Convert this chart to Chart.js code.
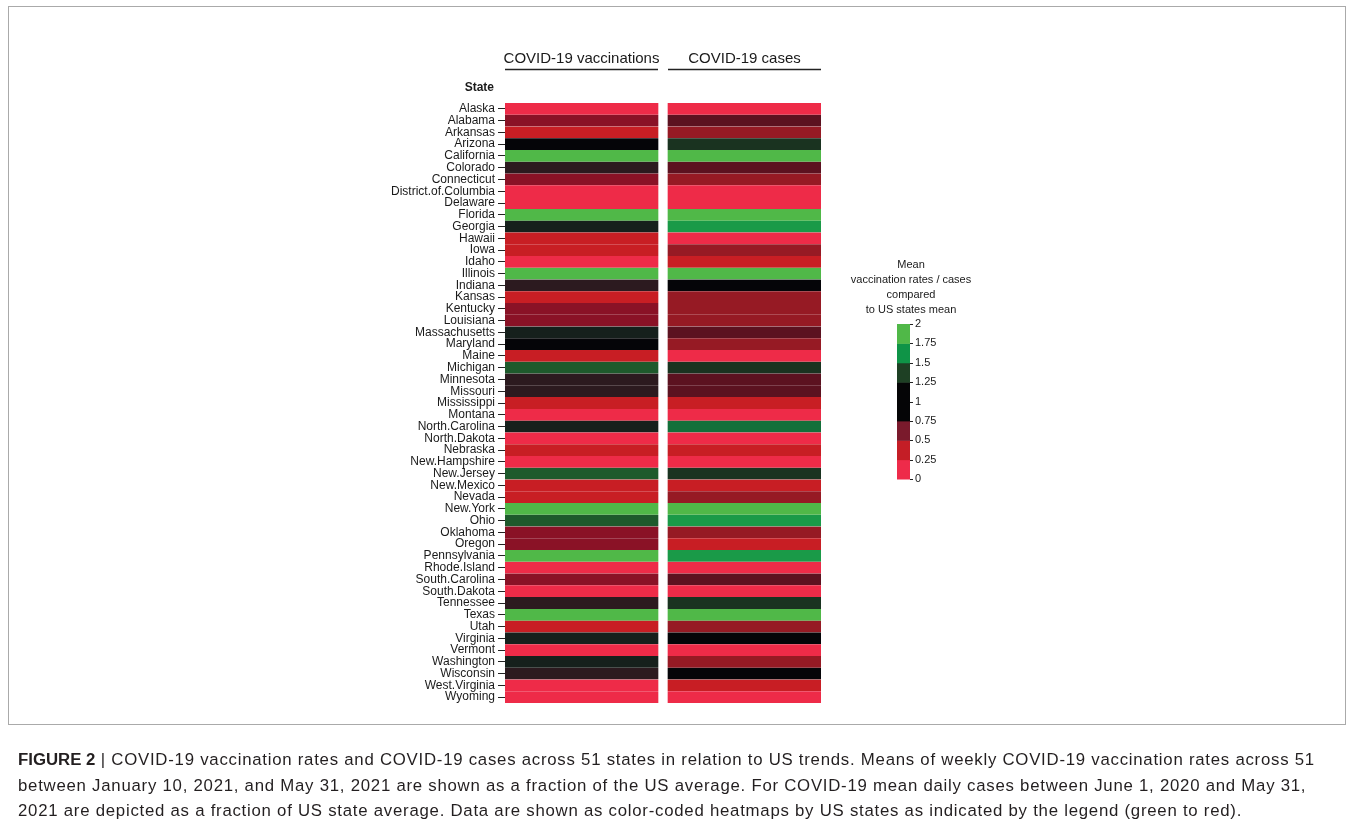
<!DOCTYPE html>
<html>
<head>
<meta charset="utf-8">
<title>COVID-19 vaccinations and cases by state</title>
<script src="https://cdn.jsdelivr.net/npm/chart.js@4.4.1/dist/chart.umd.min.js"></script>
<style>
  html, body { margin: 0; padding: 0; background: #ffffff; }
  #wrap { position: relative; width: 1354px; height: 820px; overflow: hidden; }
  #heat { position: absolute; left: 0; top: 0; }
  #caption {
    position: absolute; left: 18px; top: 747px;
    font-family: "Liberation Sans", Arial, Helvetica, sans-serif;
    font-size: 16.8px; line-height: 25.6px; color: #231f20;
    letter-spacing: 0.75px; white-space: nowrap;
  }
  #caption b { font-weight: bold; letter-spacing: 0; }
</style>
</head>
<body>
<div id="wrap">
  <canvas id="heat" width="1354" height="820"></canvas>
  <div id="caption"><b>FIGURE 2</b> | COVID-19 vaccination rates and COVID-19 cases across 51 states in relation to US trends. Means of weekly COVID-19 vaccination rates across 51<br>between January 10, 2021, and May 31, 2021 are shown as a fraction of the US average. For COVID-19 mean daily cases between June 1, 2020 and May 31,<br>2021 are depicted as a fraction of US state average. Data are shown as color-coded heatmaps by US states as indicated by the legend (green to red).</div>
</div>
<script>
// States, top to bottom
const states = [
  'Alaska', 'Alabama', 'Arkansas', 'Arizona', 'California', 'Colorado', 'Connecticut',
  'District.of.Columbia', 'Delaware', 'Florida', 'Georgia', 'Hawaii', 'Iowa', 'Idaho',
  'Illinois', 'Indiana', 'Kansas', 'Kentucky', 'Louisiana', 'Massachusetts', 'Maryland',
  'Maine', 'Michigan', 'Minnesota', 'Missouri', 'Mississippi', 'Montana', 'North.Carolina',
  'North.Dakota', 'Nebraska', 'New.Hampshire', 'New.Jersey', 'New.Mexico', 'Nevada',
  'New.York', 'Ohio', 'Oklahoma', 'Oregon', 'Pennsylvania', 'Rhode.Island',
  'South.Carolina', 'South.Dakota', 'Tennessee', 'Texas', 'Utah', 'Virginia', 'Vermont',
  'Washington', 'Wisconsin', 'West.Virginia', 'Wyoming'
];

// Mean weekly vaccination rate as a fraction of the US average
const vaccinations = [
  0.18, 0.60, 0.40, 1.00, 1.92, 0.85, 0.60,
  0.21, 0.19, 1.86, 1.10, 0.40, 0.40, 0.22,
  1.84, 0.85, 0.40, 0.60, 0.60, 1.10, 1.00,
  0.40, 1.35, 0.85, 0.85, 0.40, 0.17, 1.10,
  0.12, 0.40, 0.20, 1.35, 0.40, 0.40,
  1.88, 1.35, 0.60, 0.60, 1.83, 0.23,
  0.60, 0.14, 0.85, 1.81, 0.40, 1.10, 0.21,
  1.10, 0.85, 0.16, 0.13
];

// Mean daily cases as a fraction of the US state average
const cases = [
  0.17, 0.70, 0.55, 1.20, 1.90, 0.70, 0.55,
  0.20, 0.18, 1.85, 1.60, 0.21, 0.55, 0.40,
  1.87, 1.00, 0.55, 0.55, 0.55, 0.70, 0.55,
  0.19, 1.20, 0.70, 0.70, 0.40, 0.15, 1.45,
  0.14, 0.40, 0.22, 1.20, 0.40, 0.55,
  1.84, 1.60, 0.55, 0.40, 1.60, 0.20,
  0.70, 0.16, 1.20, 1.89, 0.55, 1.00, 0.18,
  0.55, 1.00, 0.40, 0.19
];

const columnTitles = ['COVID-19 vaccinations', 'COVID-19 cases'];
const legendTicks = ['0', '0.25', '0.5', '0.75', '1', '1.25', '1.5', '1.75', '2'];
const legendTitle = ['Mean', 'vaccination rates / cases', 'compared', 'to US states mean'];

// Red -> black -> green colour scale
const colourStops = [
  [0.25, '#ee2b48'], [0.40, '#c81e24'], [0.55, '#961a24'], [0.60, '#8a1226'],
  [0.70, '#5c1220'], [0.85, '#2c1a1f'], [1.00, '#050508'], [1.10, '#16201c'],
  [1.20, '#1a3320'], [1.35, '#1e5a2c'], [1.45, '#13703a'], [1.60, '#1a9a48'],
  [1.80, '#50b848']
];
// Swatches of the colour key, from 0-0.25 up to 1.75-2
const keyColours = ['#ee2b4a', '#c41e26', '#7a1a2c', '#050506', '#050506', '#1e4024', '#0f9447', '#50b848'];

function hexToRgb(h) {
  const n = parseInt(h.slice(1), 16);
  return [(n >> 16) & 255, (n >> 8) & 255, n & 255];
}
function colourFor(v) {
  if (v <= colourStops[0][0]) return colourStops[0][1];
  const last = colourStops[colourStops.length - 1];
  if (v >= last[0]) return last[1];
  for (let i = 1; i < colourStops.length; i++) {
    const [v1, c1] = colourStops[i];
    if (v <= v1) {
      const [v0, c0] = colourStops[i - 1];
      const t = (v - v0) / (v1 - v0);
      const a = hexToRgb(c0), b = hexToRgb(c1);
      const m = a.map((x, k) => Math.round(x + (b[k] - x) * t));
      return `rgb(${m[0]},${m[1]},${m[2]})`;
    }
  }
  return last[1];
}

const FONT = '"Liberation Sans", Arial, Helvetica, sans-serif';

// Column headers, "State" label, colour key and figure frame
const decorations = {
  id: 'decorations',
  afterDraw(chart) {
    const ctx = chart.ctx;
    const xs = chart.scales.x;
    ctx.save();

    // frame
    ctx.strokeStyle = '#aaaaaa';
    ctx.lineWidth = 1;
    ctx.strokeRect(8.5, 6.5, 1337, 718);

    // column headers with underlines
    const gap = 5;
    const spans = [
      [xs.getPixelForValue(0), xs.getPixelForValue(1) - gap],
      [xs.getPixelForValue(1) + gap, xs.getPixelForValue(2)]
    ];
    ctx.fillStyle = '#1a1a1a';
    ctx.font = '15px ' + FONT;
    ctx.textAlign = 'center';
    ctx.textBaseline = 'middle';
    spans.forEach((s, i) => {
      ctx.fillText(columnTitles[i], (s[0] + s[1]) / 2, 59);
      ctx.beginPath();
      ctx.lineWidth = 1.3;
      ctx.strokeStyle = '#222';
      ctx.moveTo(s[0], 69.5);
      ctx.lineTo(s[1], 69.5);
      ctx.stroke();
    });

    // row axis title
    ctx.font = 'bold 12px ' + FONT;
    ctx.textAlign = 'right';
    ctx.fillText('State', 494, 88);

    // colour key title
    ctx.font = '11px ' + FONT;
    ctx.textAlign = 'center';
    legendTitle.forEach((t, i) => ctx.fillText(t, 911, 265 + i * 15));

    // colour key bar
    const kx = 897, kw = 13, kTop = 324, kBottom = 479;
    const step = (kBottom - kTop) / keyColours.length;
    keyColours.forEach((c, i) => {
      ctx.fillStyle = c;
      ctx.fillRect(kx, kBottom - (i + 1) * step, kw, step + 0.5);
    });
    ctx.strokeStyle = '#222';
    ctx.lineWidth = 1;
    ctx.fillStyle = '#1a1a1a';
    ctx.font = '11px ' + FONT;
    ctx.textAlign = 'left';
    legendTicks.forEach((t, i) => {
      const y = kBottom - i * step;
      ctx.beginPath();
      ctx.moveTo(kx + kw, Math.round(y) + 0.5);
      ctx.lineTo(kx + kw + 3, Math.round(y) + 0.5);
      ctx.stroke();
      ctx.fillText(t, kx + kw + 5, y);
    });
    ctx.restore();
  }
};

const colGap = 5;
new Chart(document.getElementById('heat'), {
  type: 'bar',
  data: {
    labels: states,
    datasets: [
      {
        label: columnTitles[0],
        data: states.map(() => 1),
        backgroundColor: vaccinations.map(colourFor),
        borderColor: '#ffffff',
        borderWidth: { top: 0, bottom: 0, left: 0, right: colGap },
        borderSkipped: false,
        categoryPercentage: 1,
        barPercentage: 1
      },
      {
        label: columnTitles[1],
        data: states.map(() => 1),
        backgroundColor: cases.map(colourFor),
        borderColor: '#ffffff',
        borderWidth: { top: 0, bottom: 0, left: colGap, right: 0 },
        borderSkipped: false,
        categoryPercentage: 1,
        barPercentage: 1
      }
    ]
  },
  options: {
    indexAxis: 'y',
    responsive: false,
    animation: false,
    devicePixelRatio: 1,
    layout: { padding: { left: 0, top: 103, right: 533, bottom: 117 } },
    plugins: { legend: { display: false }, tooltip: { enabled: false } },
    scales: {
      x: { stacked: true, min: 0, max: 2, display: false },
      y: {
        stacked: true,
        afterFit(scale) { scale.width = 505; },
        border: { display: false },
        grid: { offset: false, drawOnChartArea: false, drawTicks: true, tickLength: 7, color: '#222', lineWidth: 1 },
        ticks: { color: '#1a1a1a', padding: 3, autoSkip: false, font: { family: FONT, size: 12 } }
      }
    }
  },
  plugins: [decorations]
});
</script>
</body>
</html>
